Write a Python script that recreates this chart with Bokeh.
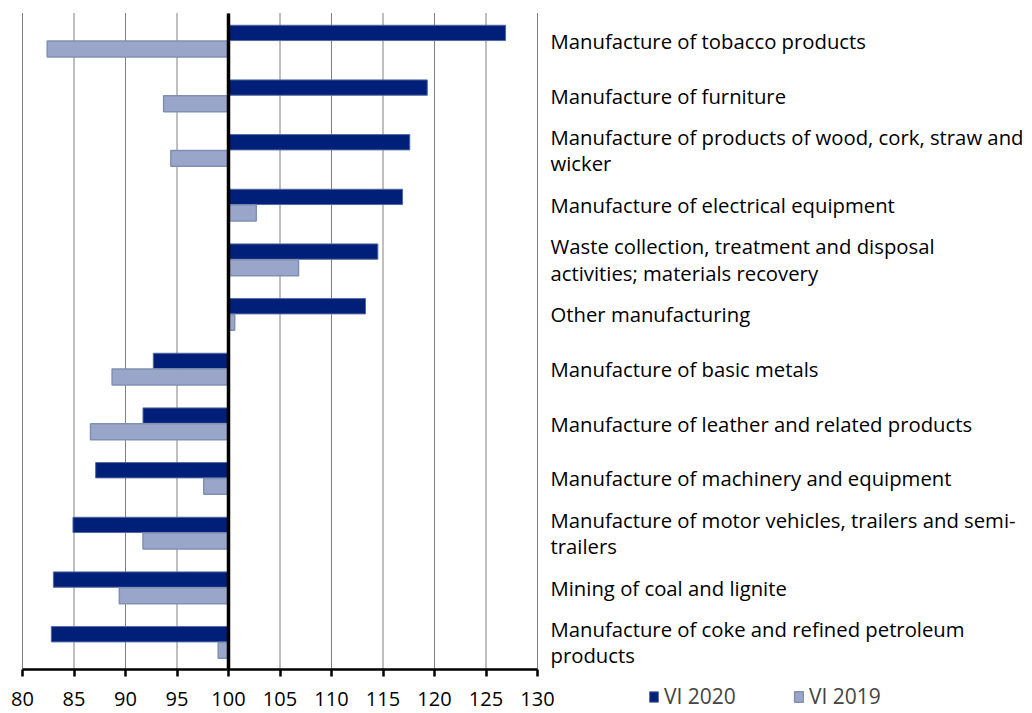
from bokeh.plotting import figure
from bokeh.models import (ColumnDataSource, Range1d, FixedTicker, LinearAxis,
                          Legend, LegendItem)
from bokeh.transform import dodge
from bokeh.embed import file_html
from bokeh.resources import INLINE

categories = [
    "Manufacture of tobacco products",
    "Manufacture of furniture",
    "Manufacture of products of wood, cork, straw and\nwicker",
    "Manufacture of electrical equipment",
    "Waste collection, treatment and disposal\nactivities; materials recovery",
    "Other manufacturing",
    "Manufacture of basic metals",
    "Manufacture of leather and related products",
    "Manufacture of machinery and equipment",
    "Manufacture of motor vehicles, trailers and semi-\ntrailers",
    "Mining of coal and lignite",
    "Manufacture of coke and refined petroleum\nproducts",
]
vi_2020 = [126.9, 119.3, 117.6, 116.9, 114.5, 113.3, 92.7, 91.7, 87.1, 84.9, 83.0, 82.8]
vi_2019 = [82.4, 93.7, 94.4, 102.7, 106.8, 100.6, 88.7, 86.6, 97.6, 91.7, 89.4, 99.0]
x_ticks = [80, 85, 90, 95, 100, 105, 110, 115, 120, 125, 130]
baseline = 100
series_names = ["VI 2020", "VI 2019"]

FONT = "Open Sans"
C2020 = "#001F78"
C2019 = "#99A6C9"

# layout (pixels on the canvas)
W, H = 1030, 711
LEFT, RIGHT, TOP, BOTTOM = 22, 537, 13, 669
xmin, xmax = x_ticks[0], x_ticks[-1]
n = len(categories)
ppx = (RIGHT - LEFT) / (xmax - xmin)
ppy = (BOTTOM - TOP) / n

pos = list(range(n))
src = ColumnDataSource(dict(pos=pos, v2020=vi_2020, v2019=vi_2019))
grid_src = ColumnDataSource(dict(x=x_ticks, y0=[-0.5] * len(x_ticks), y1=[n - 0.5] * len(x_ticks)))

p = figure(width=W, height=H, output_backend="svg", toolbar_location=None,
           x_range=Range1d(xmin - LEFT / ppx, xmax + (W - RIGHT) / ppx),
           y_range=Range1d(n - 0.5 + (H - BOTTOM) / ppy, -0.5 - TOP / ppy),
           min_border=0, min_border_left=0, min_border_right=0,
           min_border_top=0, min_border_bottom=0, y_axis_location=None)
p.outline_line_color = None
p.background_fill_color = "white"
p.border_fill_color = "white"
p.xgrid.visible = False
p.ygrid.visible = False

# vertical dotted grid lines at the x ticks
p.segment(x0="x", x1="x", y0="y0", y1="y1", source=grid_src,
          line_color="black", line_dash="1 1", line_width=1)

r1 = p.hbar(y=dodge("pos", -0.145, range=p.y_range), left=baseline, right="v2020", height=0.28,
            source=src, fill_color=C2020, line_color="#5468A0", line_width=1)
r2 = p.hbar(y=dodge("pos", 0.15, range=p.y_range), left=baseline, right="v2019", height=0.29,
            source=src, fill_color=C2019, line_color="#8090B4", line_width=1.5)

# baseline at 100
p.segment(x0=[baseline], x1=[baseline], y0=[-0.5], y1=[n - 0.5], line_color="black", line_width=3.5)

# x axis at the bottom of the plot area
xa = p.xaxis[0]
xa.fixed_location = n - 0.5
xa.bounds = (xmin, xmax)
xa.ticker = FixedTicker(ticks=x_ticks)
xa.axis_line_color = "black"
xa.axis_line_width = 2.5
xa.major_tick_line_color = "black"
xa.major_tick_line_width = 2.5
xa.major_tick_in = 0
xa.major_tick_out = 7
xa.minor_tick_line_color = None
xa.major_label_text_font = FONT
xa.major_label_text_font_size = "20px"
xa.major_label_text_color = "black"
xa.major_label_standoff = 15

# category labels to the right of the plot area
ra = LinearAxis(ticker=FixedTicker(ticks=pos), fixed_location=xmax,
                major_label_overrides={i: c for i, c in enumerate(categories)})
ra.axis_line_color = None
ra.major_tick_line_color = None
ra.minor_tick_line_color = None
ra.major_tick_in = 0
ra.major_tick_out = 0
ra.major_label_text_font = FONT
ra.major_label_text_font_size = "20.3px"
ra.major_label_text_color = "black"
ra.major_label_standoff = 13
ra.major_label_text_line_height = 0.95
p.add_layout(ra, "right")

legend = Legend(items=[LegendItem(label=series_names[0], renderers=[r1]),
                       LegendItem(label=series_names[1], renderers=[r2])],
                orientation="horizontal", location=(648, 1),
                glyph_width=11, glyph_height=13, label_text_font=FONT,
                label_text_font_size="21px", label_standoff=5, spacing=57,
                padding=0, margin=0, border_line_color=None, background_fill_alpha=0,
                label_height=18)
p.add_layout(legend, "center")

open("out.html", "w").write(file_html(p, INLINE))
